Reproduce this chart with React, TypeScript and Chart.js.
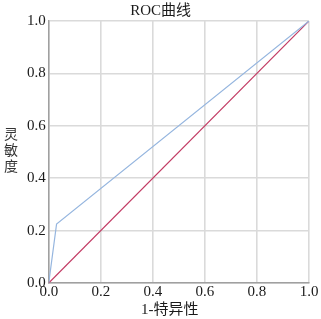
import React, { useEffect, useRef } from "react";
import { Chart, registerables } from "chart.js";
Chart.register(...registerables);

const rocX = [0, 0.03, 1];
const rocY = [0, 0.225, 1];
const refX = [0, 1];
const refY = [0, 1];
const titleText = "ROC曲线";
const xTitle = "1-特异性";
const yTitleChars = ["灵", "敏", "度"];

const serif = "'Liberation Serif', 'Noto Sans CJK SC', serif";
Chart.defaults.font.family = serif;
Chart.defaults.font.size = 15;
Chart.defaults.color = "#1a1a1a";

const labelPlugin = {
  id: "labels",
  afterDraw(chart: any) {
    const ctx = chart.ctx;
    const a = chart.chartArea;
    ctx.save();
    ctx.fillStyle = "#1a1a1a";
    ctx.textAlign = "center";
    ctx.textBaseline = "middle";
    ctx.font = "15px " + serif;
    ctx.fillText(titleText, a.left + (a.right - a.left) * 0.43, 11);
    ctx.fillText(xTitle, a.left + (a.right - a.left) * 0.465, 310);
    ctx.fillStyle = "#333";
    ctx.font = "14px " + serif;
    const y0 = 135;
    yTitleChars.forEach((c, i) => ctx.fillText(c, 11, y0 + i * 16));
    ctx.restore();
  },
};

export default function App() {
  const ref = useRef<HTMLCanvasElement>(null);
  useEffect(() => {
    document.body.style.margin = "0";
    const chart = new Chart(ref.current!, {
      type: "scatter",
      data: {
        datasets: [
          {
            data: rocX.map((x, i) => ({ x, y: rocY[i] })),
            showLine: true,
            borderColor: "#96b6df",
            borderWidth: 1.2,
            pointRadius: 0,
          },
          {
            data: refX.map((x, i) => ({ x, y: refY[i] })),
            showLine: true,
            borderColor: "#c23a63",
            borderWidth: 1.2,
            pointRadius: 0,
          },
        ],
      },
      options: {
        animation: false,
        responsive: false,
        layout: { padding: { left: 24, right: 12, top: 21, bottom: 18 } },
        plugins: {
          legend: { display: false },
          tooltip: { enabled: false },
          title: { display: false },
        },
        scales: {
          x: {
            type: "linear",
            min: 0,
            max: 1,
            ticks: {
              stepSize: 0.2,
              font: { family: serif, size: 15 },
              padding: 0,
              callback: (v: any) => Number(v).toFixed(1),
            },
            grid: { color: "#dadada", lineWidth: 1.6, drawTicks: false },
            border: { color: "#a0a0a0", width: 1.5 },
          },
          y: {
            type: "linear",
            min: 0,
            max: 1,
            ticks: {
              stepSize: 0.2,
              font: { family: serif, size: 15 },
              padding: 3,
              callback: (v: any) => Number(v).toFixed(1),
            },
            grid: { color: "#dadada", lineWidth: 1.6, drawTicks: false },
            border: { color: "#a0a0a0", width: 1.5 },
          },
        },
      },
      plugins: [labelPlugin],
    });
    return () => chart.destroy();
  }, []);
  return (
    <div style={{ width: 321, height: 319 }}>
      <canvas ref={ref} width={321} height={319} />
    </div>
  );
}
